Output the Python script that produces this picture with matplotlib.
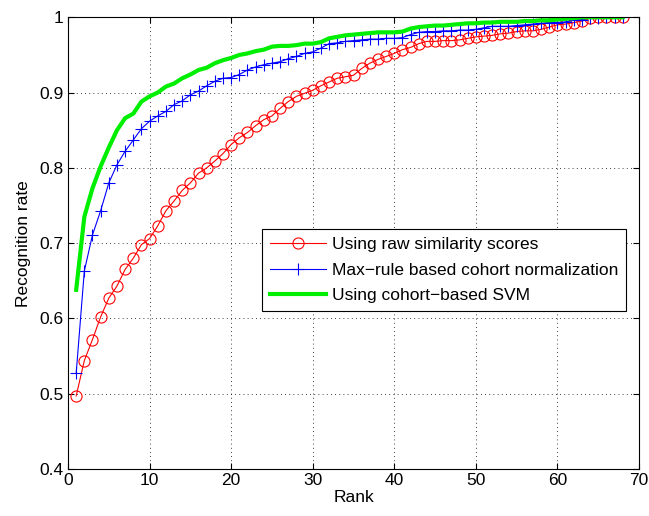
import numpy as np
import matplotlib.pyplot as plt

plt.rcParams['font.family'] = ['Liberation Sans', 'DejaVu Sans']

ranks = np.arange(1, 69)

raw_scores = [
    0.497, 0.544, 0.572, 0.602, 0.627, 0.643, 0.665, 0.680, 0.698, 0.706,
    0.723, 0.743, 0.756, 0.770, 0.780, 0.793, 0.800, 0.809, 0.819, 0.831,
    0.840, 0.847, 0.856, 0.864, 0.869, 0.879, 0.888, 0.895, 0.899, 0.903,
    0.909, 0.914, 0.919, 0.921, 0.923, 0.932, 0.939, 0.944, 0.948, 0.952,
    0.957, 0.960, 0.965, 0.968, 0.968, 0.969, 0.969, 0.970, 0.972, 0.974,
    0.975, 0.976, 0.978, 0.979, 0.981, 0.982, 0.982, 0.984, 0.987, 0.990,
    0.991, 0.993, 0.995, 0.999, 1.000, 1.000, 1.000, 1.000,
]

max_rule = [
    0.527, 0.663, 0.711, 0.743, 0.780, 0.804, 0.822, 0.837, 0.852, 0.862,
    0.869, 0.875, 0.884, 0.889, 0.897, 0.902, 0.909, 0.915, 0.919, 0.920,
    0.924, 0.930, 0.934, 0.937, 0.939, 0.941, 0.945, 0.948, 0.952, 0.954,
    0.959, 0.965, 0.966, 0.968, 0.969, 0.970, 0.971, 0.971, 0.972, 0.972,
    0.973, 0.977, 0.980, 0.981, 0.981, 0.982, 0.982, 0.983, 0.983, 0.984,
    0.986, 0.988, 0.988, 0.988, 0.989, 0.990, 0.991, 0.992, 0.993, 0.993,
    0.994, 0.996, 0.997, 0.999, 0.999, 1.000, 1.000, 1.000,
]

cohort_svm = [
    0.638, 0.735, 0.773, 0.802, 0.827, 0.850, 0.866, 0.872, 0.888, 0.895,
    0.900, 0.908, 0.912, 0.919, 0.924, 0.930, 0.933, 0.939, 0.943, 0.946,
    0.950, 0.952, 0.955, 0.957, 0.961, 0.962, 0.962, 0.963, 0.965, 0.965,
    0.967, 0.972, 0.974, 0.976, 0.977, 0.978, 0.979, 0.980, 0.980, 0.980,
    0.981, 0.985, 0.987, 0.988, 0.989, 0.989, 0.990, 0.991, 0.992, 0.992,
    0.993, 0.993, 0.994, 0.994, 0.994, 0.995, 0.995, 0.996, 0.996, 0.997,
    0.998, 0.999, 1.000, 1.000, 1.000, 1.000, 1.000, 1.000,
]

fig = plt.figure(figsize=(6.49, 5.16), dpi=100)
ax = fig.add_axes([0.1048, 0.0911, 0.8798, 0.8754])

ax.plot(ranks, raw_scores, color='red', lw=0.8, marker='o', markersize=8,
        markerfacecolor='none', markeredgewidth=0.8, label='Using raw similarity scores')
ax.plot(ranks, max_rule, color='blue', lw=0.8, marker='+', markersize=9,
        markeredgewidth=0.8, label='Max\u2212rule based cohort normalization')
ax.plot(ranks, cohort_svm, color='#00ee00', lw=3, label='Using cohort\u2212based SVM')

ax.set_xlim(0, 70)
ax.set_ylim(0.4, 1.0)
ax.set_xticks(np.arange(0, 71, 10))
ax.set_yticks(np.arange(0.4, 1.01, 0.1))
ax.set_yticklabels(['0.4', '0.5', '0.6', '0.7', '0.8', '0.9', '1'])
ax.grid(True, color='black', linestyle=(0, (1, 4)), linewidth=0.6)
ax.tick_params(direction='in', top=True, right=True, labelsize=12.5, length=4, pad=3)
for s in ax.spines.values():
    s.set_linewidth(0.8)

ax.set_xlabel('Rank', fontsize=12.5, labelpad=1)
ax.set_ylabel('Recognition rate', fontsize=12.5, labelpad=6)

leg = ax.legend(loc='upper left', bbox_to_anchor=(0.34, 0.531), borderaxespad=0,
                fontsize=12.5, fancybox=False, edgecolor='black', framealpha=1,
                handlelength=3.2, handletextpad=0.35, borderpad=0.45, labelspacing=0.6)
leg.get_frame().set_linewidth(0.8)

fig.savefig('out.png', dpi=100)
